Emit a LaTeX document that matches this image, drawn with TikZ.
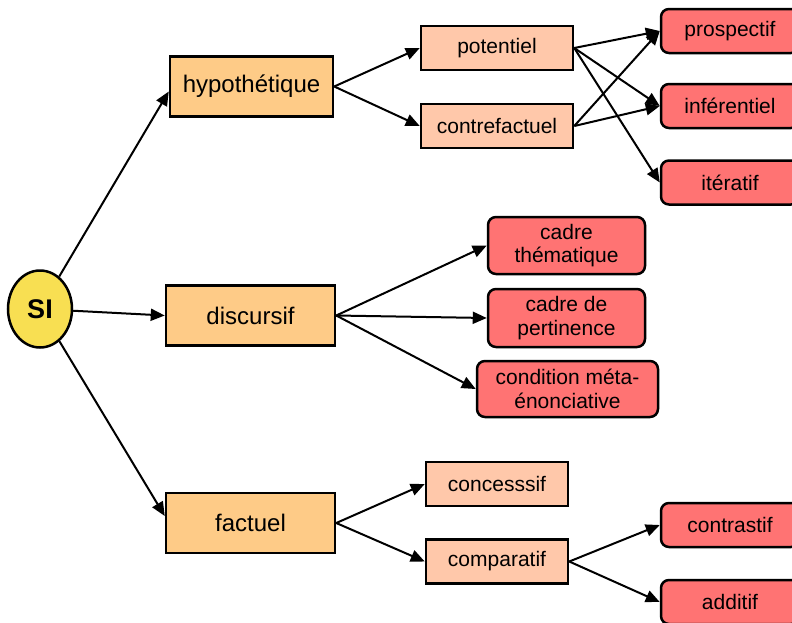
\documentclass[tikz,border=0pt]{standalone}
\usepackage{fontspec}
\setmainfont{Liberation Sans}
\usetikzlibrary{shapes.geometric,arrows.meta}

\definecolor{jaune}{RGB}{248,223,82}
\definecolor{niveauun}{RGB}{254,203,135}
\definecolor{niveaudeux}{RGB}{255,200,170}
\definecolor{niveautrois}{RGB}{255,115,115}

\tikzset{
    racine/.style={ellipse, draw, line width=2.5pt, fill=jaune, minimum width=64pt, minimum height=77pt, inner sep=0pt, font=\bfseries\fontsize{27}{30}\selectfont},
    categorie/.style={rectangle, draw, line width=2.5pt, fill=niveauun, minimum height=60pt, font=\fontsize{24}{28}\selectfont},
    souscat/.style={rectangle, draw, line width=2.5pt, fill=niveaudeux, minimum height=44pt, font=\fontsize{21}{23.5}\selectfont},
    valeur/.style={rectangle, rounded corners=8pt, draw, line width=2.5pt, fill=niveautrois, minimum width=138pt, minimum height=44pt, align=center, font=\fontsize{21}{23.5}\selectfont},
    fleche/.style={line width=2pt, -{Triangle[length=14pt,width=12pt]}}
}

\begin{document}
\begin{tikzpicture}[x=1pt, y=-1pt]

    \useasboundingbox (0,0) rectangle (792,622);
    \clip (0,0) rectangle (792,622);

    \node[racine] (SI) at (40,309) {SI};

    \node[categorie, minimum width=163pt] (hyp) at (251.5,86.5) {hypothétique};
    \node[categorie, minimum width=169pt] (disc) at (250.5,315.5) {discursif};
    \node[categorie, minimum width=169pt] (fact) at (250.5,523) {factuel};

    \node[souscat, minimum width=152pt] (pot) at (497,48) {potentiel};
    \node[souscat, minimum width=152pt] (contre) at (497,126) {contrefactuel};
    \node[souscat, minimum width=142pt] (conc) at (497,484) {concesssif};
    \node[souscat, minimum width=142pt] (comp) at (497,561.5) {comparatif};

    \node[valeur] (prosp) at (730,31) {prospectif};
    \node[valeur] (infer) at (730,106) {inférentiel};
    \node[valeur] (iter) at (730,182.5) {itératif};
    \node[valeur, minimum width=157pt, minimum height=57pt] (cadreth) at (566.5,245.5) {cadre\\thématique};
    \node[valeur, minimum width=157pt, minimum height=58pt] (cadrepert) at (566.5,318) {cadre de\\pertinence};
    \node[valeur, minimum width=181pt, minimum height=56pt] (cond) at (567.5,389) {condition méta-\\énonciative};
    \node[valeur] (contr) at (730,525) {contrastif};
    \node[valeur] (add) at (730,602) {additif};

    \draw[fleche] (SI) -- ([yshift=-5pt]hyp.west);
    \draw[fleche] (SI) -- (disc.west);
    \draw[fleche] (SI) -- ([yshift=7pt]fact.west);

    \foreach \A/\B in {hyp/pot, hyp/contre, pot/prosp, pot/infer, pot/iter, contre/prosp, contre/infer, disc/cadreth, disc/cadrepert, disc/cond, fact/conc, fact/comp, comp/contr, comp/add}
        \draw[fleche] (\A.east) -- (\B.west);

\end{tikzpicture}
\end{document}
